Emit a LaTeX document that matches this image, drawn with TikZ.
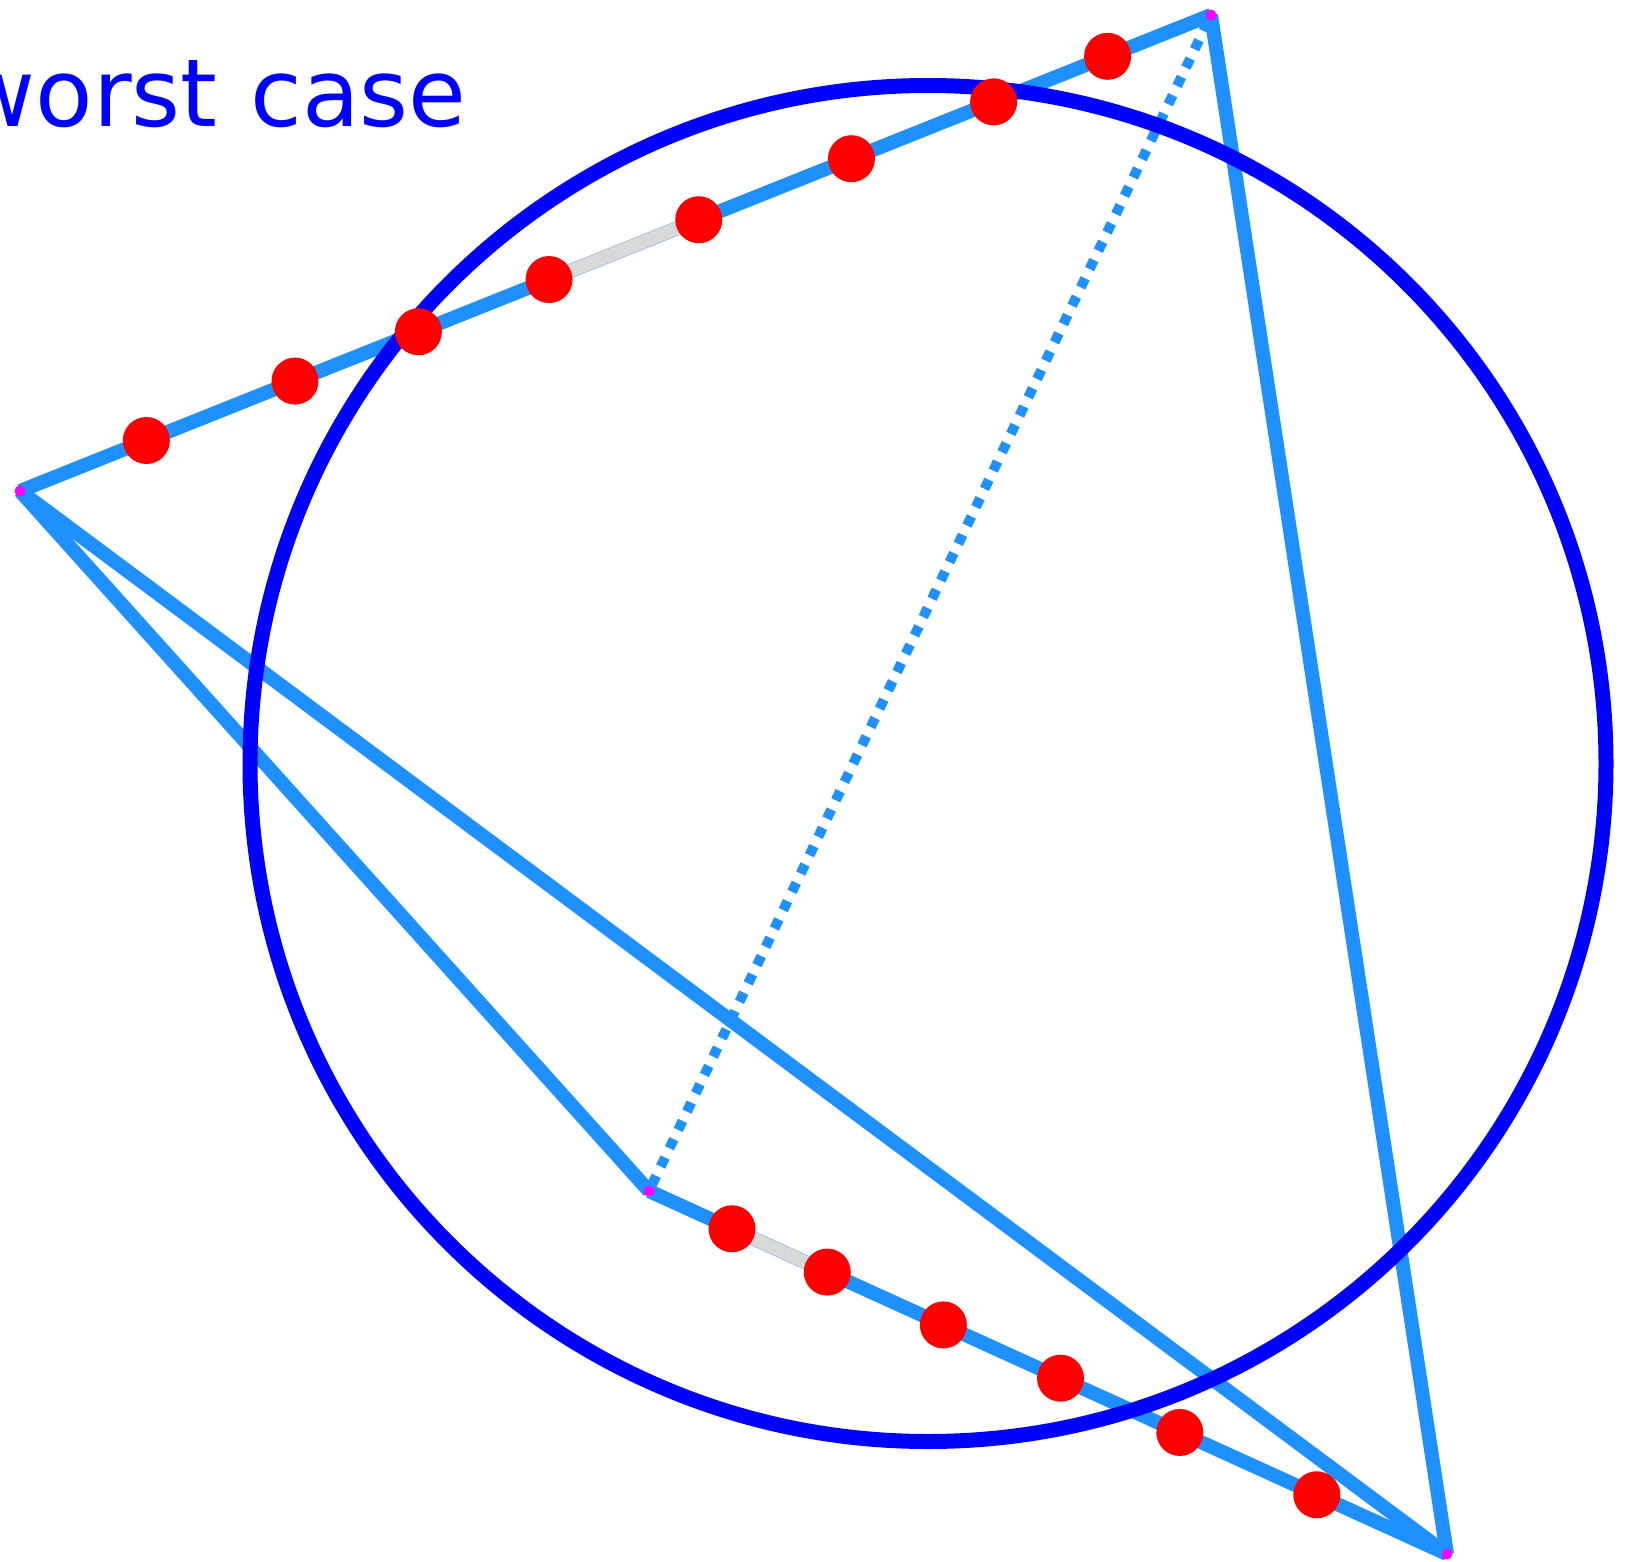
\documentclass[tikz,border=0pt]{standalone}
\usepackage{fontspec}
\setmainfont{DejaVu Sans}
\usetikzlibrary{calc}
\definecolor{dblue}{HTML}{1E90FF}
\definecolor{ringblue}{HTML}{0000FF}
\definecolor{segray}{HTML}{D9D9D9}
\definecolor{vmag}{HTML}{FF00FF}
\definecolor{dotred}{HTML}{FF0000}
\begin{document}
\begin{tikzpicture}[x=0.5pt,y=-0.5pt,
  edge/.style={draw=dblue,line width=7pt},
  dotline/.style={draw=dblue,line width=5pt,dash pattern=on 5pt off 5.15pt,dash phase=6.75pt},
  grayseg/.style={draw=segray,line width=6.7pt},
  ring/.style={draw=ringblue,line width=7.5pt},
  reddot/.style={circle,fill=dotred,draw=none,inner sep=0pt,minimum size=23.5pt},
  vertex/.style={circle,fill=vmag,draw=none,inner sep=0pt,minimum size=5.5pt},
  title/.style={anchor=base east,inner sep=0pt,text=ringblue,font=\fontsize{47}{56}\selectfont}]
\useasboundingbox (0,0) rectangle (1640,1562);
% vertices
\coordinate (A) at (20,491);
\coordinate (B) at (1211,15);
\coordinate (C) at (1447,1554);
\coordinate (D) at (649,1191);
\coordinate (O) at (928,763.5);
% dot positions
\coordinate (p1) at ($(A)!0.1061!(B)$);
\coordinate (p2) at ($(A)!0.2309!(B)$);
\coordinate (p3) at ($(A)!0.3345!(B)$);
\coordinate (p4) at ($(A)!0.4442!(B)$);
\coordinate (p5) at ($(A)!0.5699!(B)$);
\coordinate (p6) at ($(A)!0.6981!(B)$);
\coordinate (p7) at ($(A)!0.8175!(B)$);
\coordinate (p8) at ($(A)!0.9132!(B)$);
\coordinate (q1) at ($(D)!0.1040!(C)$);
\coordinate (q2) at ($(D)!0.2234!(C)$);
\coordinate (q3) at ($(D)!0.3689!(C)$);
\coordinate (q4) at ($(D)!0.5157!(C)$);
\coordinate (q5) at ($(D)!0.6652!(C)$);
\coordinate (q6) at ($(D)!0.8368!(C)$);
% edges
\draw[edge] (A) -- (B);
\draw[edge] (B) -- (C);
\draw[edge] (A) -- (C);
\draw[edge] (A) -- (D);
\draw[edge] (D) -- (C);
\draw[dotline] (D) -- (B);
\draw[grayseg] (p4) -- (p5);
\draw[grayseg] (q1) -- (q2);
% circle
\draw[ring] (O) circle[radius=339pt];
% red dots
\foreach \p in {p1,p2,p3,p4,p5,p6,p7,p8,q1,q2,q3,q4,q5,q6}
  \node[reddot] (dot-\p) at (\p) {};
% vertex markers
\node[vertex] (vA) at (A) {};
\node[vertex] (vB) at (B) {};
\node[vertex] (vC) at (C) {};
\node[vertex] (vD) at (D) {};
% title
\node[title] (caption) at (467,127) {worst\hspace{1.5pt} case};
\end{tikzpicture}
\end{document}
